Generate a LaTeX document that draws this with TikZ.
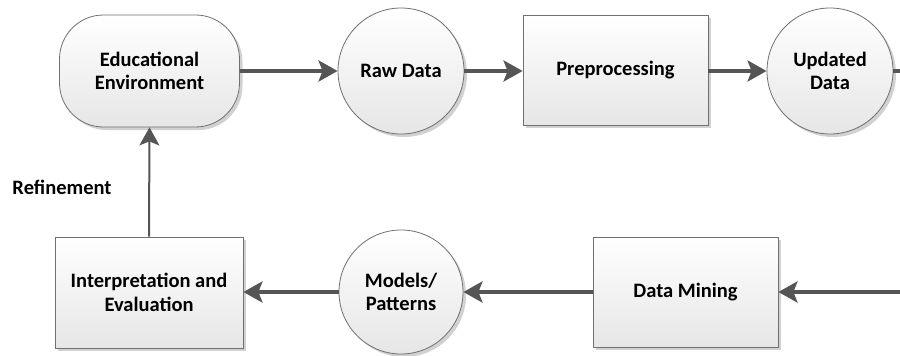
\documentclass[tikz,border=0pt]{standalone}
\usepackage{fontspec}
\setmainfont{Carlito}
\usetikzlibrary{arrows.meta,shadows,shapes.geometric}

\definecolor{linegray}{HTML}{555555}
\definecolor{edgegray}{HTML}{707070}
\definecolor{shadegray}{HTML}{E6E6E6}

\tikzset{
  txt/.style={font=\fontsize{20.5}{23.5}\selectfont\bfseries},
  base/.style={txt, draw=edgegray, line width=0.8pt, top color=white, bottom color=shadegray,
    align=center, inner sep=0pt,
    drop shadow={shadow xshift=3pt, shadow yshift=-3pt, fill=black!18, opacity=1}},
  procbox/.style={base, rectangle},
  databub/.style={base, circle, minimum size=126pt},
  envbox/.style={base, rectangle, rounded corners=44pt},
  flow/.style={draw=linegray, line width=4pt,
    -{Stealth[length=19pt,width=21pt,inset=4pt]}},
  backflow/.style={draw=linegray, line width=2pt,
    -{Stealth[length=18pt,width=20pt,inset=4pt]}},
  lbl/.style={txt, inner sep=0pt}
}

\begin{document}
\begin{tikzpicture}[x=1pt, y=-1pt]
  \useasboundingbox (0,0) rectangle (900,356);

  % top row
  \node[envbox, minimum width=180pt, minimum height=112pt] (env) at (149.5,71) {Educational\\Environment};
  \node[databub] (raw) at (401,71) {Raw Data};
  \node[procbox, minimum width=185pt, minimum height=110pt] (pre) at (615.5,70) {Preprocessing};
  \node[databub] (upd) at (830,71) {Updated\\Data};

  % bottom row
  \node[procbox, minimum width=188pt, minimum height=111pt] (interp) at (149,292.5) {Interpretation and\\Evaluation};
  \node[databub, minimum size=124pt] (models) at (401,292) {Models/\\Patterns};
  \node[procbox, minimum width=185pt, minimum height=110pt] (mining) at (685.5,292) {Data Mining};

  \node[lbl] (refine) at (62,187) {Refinement};

  % loose ends at the right border
  \coordinate (outR) at (900,71);
  \coordinate (inR) at (900,292);

  % connectors
  \draw[flow] (env.east |- 0,71) -- (raw.west);
  \draw[flow] (raw.east) -- (pre.west |- raw.east);
  \draw[flow] (pre.east |- upd.west) -- (upd.west);
  \draw[draw=linegray, line width=4pt] (upd.east) -- (outR);
  \draw[flow] (inR) -- (mining.east);
  \draw[flow] (mining.west) -- (models.east);
  \draw[flow] (models.west) -- (interp.east |- models.west);
  \draw[backflow] (interp.north) -- (env.south);
\end{tikzpicture}
\end{document}
